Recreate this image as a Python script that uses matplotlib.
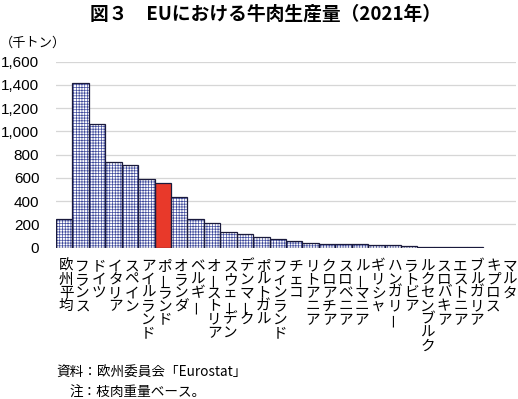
import matplotlib
matplotlib.use("Agg")
import matplotlib.pyplot as plt
import matplotlib.transforms as mtransforms
import numpy as np

plt.rcParams['font.family'] = ['Noto Sans CJK JP', 'DejaVu Sans']
plt.rcParams['hatch.linewidth'] = 0.5

# data (thousand tonnes, 2021)
countries = ['欧州平均', 'フランス', 'ドイツ', 'イタリア', 'スペイン', 'アイルランド',
             'ポーランド', 'オランダ', 'ベルギー', 'オーストリア', 'スウェーデン',
             'デンマーク', 'ポルトガル', 'フィンランド', 'チェコ', 'リトアニア',
             'クロアチア', 'スロベニア', 'ルーマニア', 'ギリシャ', 'ハンガリー',
             'ラトビア', 'ルクセンブルク', 'スロバキア', 'エストニア', 'ブルガリア',
             'キプロス', 'マルタ']
production = [250, 1420, 1065, 740, 715, 590, 560, 432, 250, 213, 136, 115,
              95, 77, 60, 38, 35, 30, 30, 27, 21, 14, 9, 9, 8, 6,
              np.nan, np.nan]
highlight = 'ポーランド'
yticks = [0, 200, 400, 600, 800, 1000, 1200, 1400, 1600]

fig = plt.figure(figsize=(5.18, 3.99), dpi=100)
ax = fig.add_axes([56/518, 1 - 247.7/399, 460/518, (247.7 - 61.7)/399])

x = np.arange(len(countries))
vals = np.array(production, dtype=float)
ok = ~np.isnan(vals)
colors = ['#e8392a' if c == highlight else 'white' for c in countries]
hatches = ['' if c == highlight else '++++++' for c in countries]

# fill + hatch pass (hatch colour follows edgecolor), then outline pass
for xi, v, fc, h in zip(x[ok], vals[ok], np.array(colors)[ok], np.array(hatches)[ok]):
    ax.bar(xi, v, width=1.0, color=fc, hatch=h, edgecolor='#3f4a9c', linewidth=0, zorder=2)
ax.bar(x[ok], vals[ok], width=1.0, fill=False, edgecolor='#1a1a3c', linewidth=0.9, zorder=3)

ax.set_xlim(-0.5, len(countries) - 0.5)
ax.set_ylim(0, 1600)
ax.set_yticks(yticks)
ax.set_yticklabels([f'{t:,}' for t in yticks], family=['Liberation Sans', 'DejaVu Sans'], fontsize=11)
ax.tick_params(axis='y', length=0, pad=12)
ax.set_xticks([])
ax.yaxis.grid(True, color='#d6d6d6', linewidth=0.9, zorder=0)
ax.get_ygridlines()[0].set_visible(False)
ax.set_axisbelow(True)
for s in ax.spines.values():
    s.set_visible(False)

# vertical (tategaki) category labels, one char at a time
trans = mtransforms.blended_transform_factory(ax.transData, fig.transFigure)
for i, name in enumerate(countries):
    for k, ch in enumerate(name):
        ypx = 266.5 + k * 13.3
        rot = 90 if ch == 'ー' else 0
        ax.text(i + 0.12, 1 - ypx / 399, ch, transform=trans, ha='center', va='center',
                fontsize=10.5, rotation=rot, clip_on=False)

fig.text(0.512, 1 - 14/399, '図３　EUにおける牛肉生産量（2021年）', ha='center', va='center',
         fontsize=13.5, fontweight='bold')
fig.text(0.0, 1 - 43/399, '（千トン）', ha='left', va='center', fontsize=9.5)
fig.text(56/518, 1 - 373/399, '資料：欧州委員会「Eurostat」', ha='left', va='center', fontsize=9.8)
fig.text(70/518, 1 - 393/399, '注：枝肉重量ベース。', ha='left', va='center', fontsize=9.8)

fig.savefig('out.png', dpi=100)
